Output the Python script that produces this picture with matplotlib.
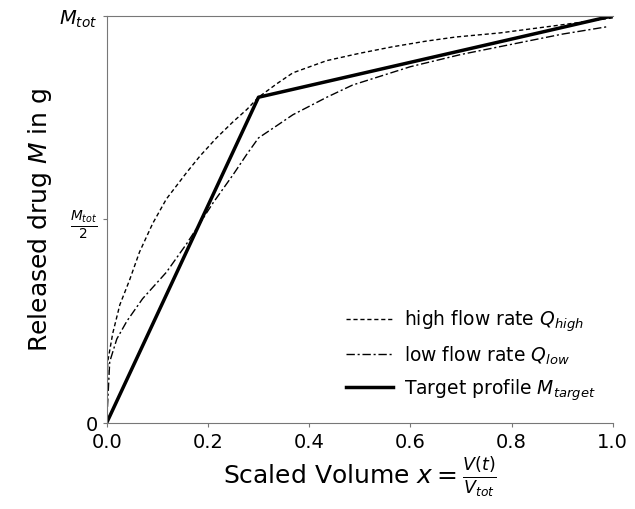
import numpy as np
import matplotlib
matplotlib.use("Agg")
import matplotlib.pyplot as plt

# data --------------------------------------------------------------
x_high = [0.0, 0.002, 0.012, 0.026, 0.045, 0.065, 0.091, 0.118, 0.158, 0.184,
          0.217, 0.25, 0.277, 0.30, 0.336, 0.368, 0.435, 0.5, 0.565, 0.632,
          0.69, 0.777, 0.9, 1.0]
y_high = [0.0, 0.15, 0.22, 0.29, 0.35, 0.42, 0.49, 0.55, 0.615, 0.655,
          0.70, 0.74, 0.77, 0.80, 0.833, 0.86, 0.89, 0.908, 0.924, 0.938,
          0.948, 0.958, 0.978, 0.995]

x_low = [0.0, 0.006, 0.02, 0.04, 0.071, 0.118, 0.158, 0.21, 0.25, 0.277,
         0.30, 0.336, 0.368, 0.435, 0.486, 0.6, 0.7, 0.8, 0.9, 0.988]
y_low = [0.0, 0.15, 0.206, 0.25, 0.305, 0.37, 0.44, 0.54, 0.61, 0.66,
         0.70, 0.73, 0.757, 0.80, 0.83, 0.875, 0.905, 0.93, 0.955, 0.973]

x_target = [0.0, 0.3, 1.0]
y_target = [0.0, 0.8, 1.0]

x_ticks = [0.0, 0.2, 0.4, 0.6, 0.8, 1.0]
y_ticks = [0.0, 0.5, 1.0]
y_ticklabels = ["0", r"$\frac{M_{tot}}{2}$", r"$M_{tot}$"]

labels = [r"high flow rate $Q_{high}$", r"low flow rate $Q_{low}$",
          r"Target profile $M_{target}$"]

# plot ---------------------------------------------------------------
fig = plt.figure(figsize=(6.35, 5.1), dpi=100)
ax = fig.add_axes([0.168, 0.169, 0.797, 0.798])

ax.plot(x_high, y_high, color="black", ls=(0, (3, 2)), lw=1.0, label=labels[0])
ax.plot(x_low, y_low, color="black", ls=(0, (6, 2, 1.5, 2)), lw=1.0, label=labels[1])
ax.plot(x_target, y_target, color="black", ls="-", lw=2.5, label=labels[2])

ax.set_xlim(0, 1.0)
ax.set_ylim(0, 1.0)
ax.set_xticks(x_ticks)
ax.set_xticklabels([f"{t:.1f}" for t in x_ticks])
ax.set_yticks(y_ticks)
ax.set_yticklabels(y_ticklabels)
ax.tick_params(labelsize=14, length=3, color="#777777")

for s in ["left", "bottom", "top"]:
    ax.spines[s].set_color("#777777")
ax.spines["right"].set_visible(False)

ax.set_xlabel(r"Scaled Volume $x = \frac{V(t)}{V_{tot}}$", fontsize=18, labelpad=2)
ax.set_ylabel(r"Released drug $M$ in g", fontsize=18)

ax.legend(loc="lower right", frameon=False, fontsize=13.5, handlelength=2.5,
          handletextpad=0.6, labelspacing=0.55, bbox_to_anchor=(1.0, 0.01))

fig.savefig("out.png", dpi=100)
